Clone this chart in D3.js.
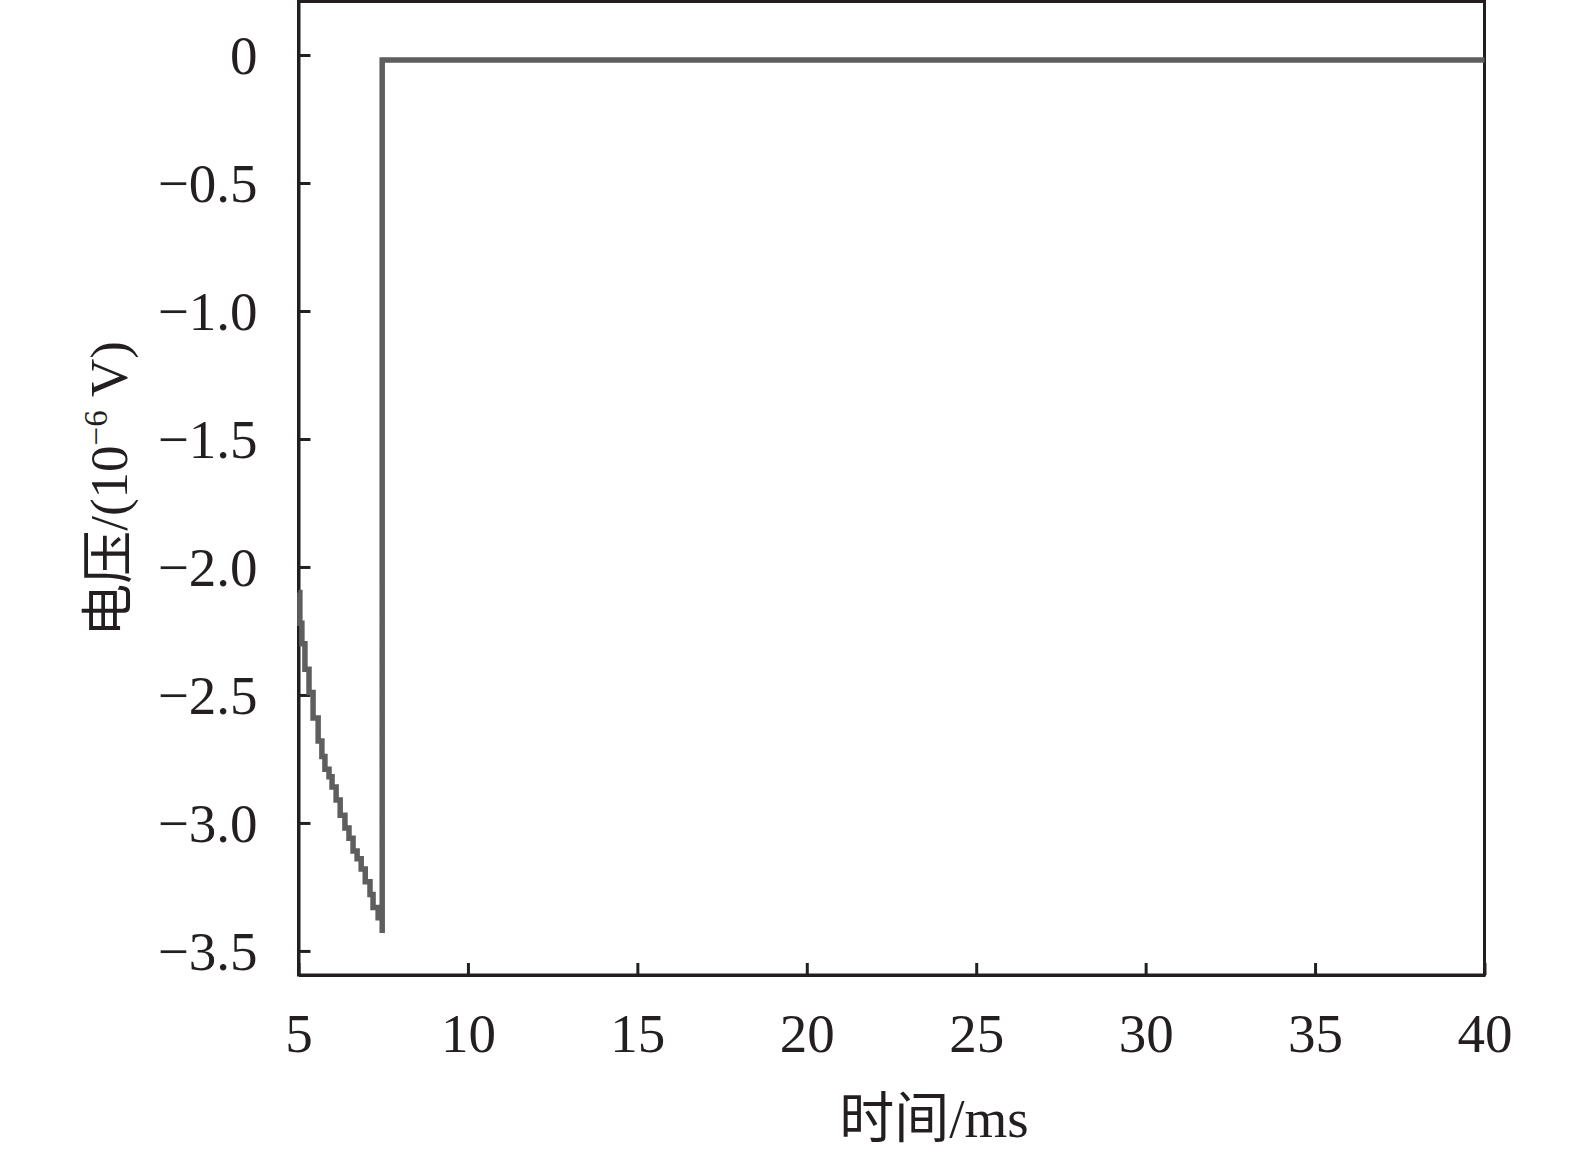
<!DOCTYPE html>
<html><head><meta charset="utf-8">
<script src="https://cdn.jsdelivr.net/npm/d3@7"></script>
<style>html,body{margin:0;padding:0;background:#fff;}</style>
</head><body>
<svg id="chart" width="1575" height="1159"></svg>
<script>
// Data (time in ms, voltage in 1e-6 V)
const timeMs = [5.00,5.04,5.10,5.19,5.31,5.43,5.58,5.69,5.78,5.90,5.99,6.11,6.23,6.37,6.49,6.61,6.73,6.85,6.97,7.11,7.20,7.35,7.47,7.47,40];
const voltage = [-2.10,-2.22,-2.30,-2.40,-2.49,-2.59,-2.68,-2.74,-2.79,-2.82,-2.86,-2.91,-2.97,-3.02,-3.06,-3.11,-3.14,-3.18,-3.23,-3.28,-3.33,-3.37,-3.43,-0.02,-0.02];
const xTicks = [5,10,15,20,25,30,35,40];
const yTicks = [0,-0.5,-1.0,-1.5,-2.0,-2.5,-3.0,-3.5];
const yTickLabels = ["0","\u22120.5","\u22121.0","\u22121.5","\u22122.0","\u22122.5","\u22123.0","\u22123.5"];

const svg = d3.select("#chart");
const L = 298.5, R = 1484.5, T = 1.5, B = 975;
const x = d3.scaleLinear().domain([5,40]).range([L,R]);
const y = d3.scaleLinear().domain([-3.594,0.209]).range([B,T]);
const axisColor = "#231f20";
const font = "'Liberation Serif','Times New Roman',serif";

// frame
svg.append("rect").attr("x",L).attr("y",T).attr("width",R-L).attr("height",B-T)
  .attr("fill","none").attr("stroke",axisColor).attr("stroke-width",3);

// axes with inward ticks
const gx = svg.append("g").attr("transform",`translate(0,${B})`)
  .call(d3.axisBottom(x).tickValues(xTicks).tickSizeInner(-12).tickSizeOuter(0).tickPadding(38).tickFormat(d3.format("d")));
const gy = svg.append("g").attr("transform",`translate(${L},0)`)
  .call(d3.axisLeft(y).tickValues(yTicks).tickSizeInner(-12).tickSizeOuter(0).tickPadding(41).tickFormat((d,i)=>yTickLabels[i]));
[gx,gy].forEach(g=>{
  g.select(".domain").attr("stroke",axisColor).attr("stroke-width",3);
  g.selectAll(".tick line").attr("stroke",axisColor).attr("stroke-width",3);
  g.selectAll(".tick text").attr("fill","#231f20").style("font-family",font).style("font-size","55px");
});
gx.selectAll(".tick text").attr("dy","0.71em");
gy.selectAll(".tick text").attr("dy","0.34em");

// line
const line = d3.line().x((d,i)=>x(timeMs[i])).y((d,i)=>y(voltage[i])).curve(d3.curveStepAfter);
svg.append("path").datum(voltage).attr("d",line)
  .attr("fill","none").attr("stroke","#5e5e5e").attr("stroke-width",5.5)
  .attr("stroke-linejoin","miter");

// axis titles
svg.append("text").attr("x",934).attr("y",1137).attr("text-anchor","middle")
  .style("font-family",font+",'Noto Sans CJK SC'").style("font-size","55px").attr("fill","#231f20")
  .text("时间/ms");
const yt = svg.append("text").attr("transform","translate(127,489) rotate(-90)").attr("text-anchor","middle")
  .style("font-family",font+",'Noto Sans CJK SC'").style("font-size","53px").attr("fill","#231f20");
yt.append("tspan").text("电压/(10");
yt.append("tspan").attr("dy",-20).style("font-size","33px").text("\u22126");
yt.append("tspan").attr("dy",20).text(" V)");
</script>
</body></html>
